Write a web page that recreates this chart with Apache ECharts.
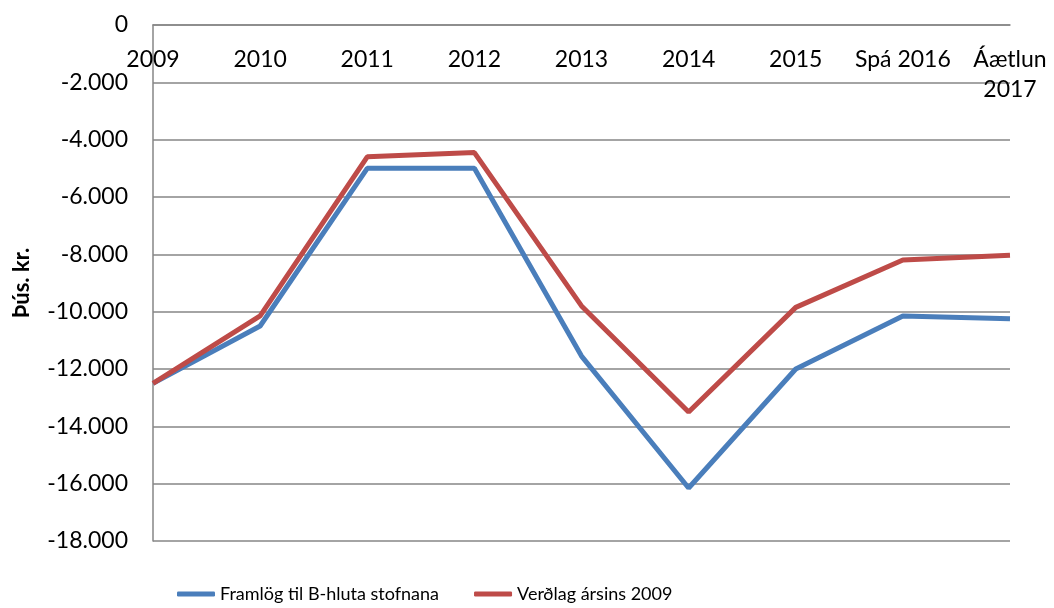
<!DOCTYPE html>
<html>
<head>
<meta charset="utf-8">
<script src="https://cdn.jsdelivr.net/npm/echarts@6/dist/echarts.min.js"></script>
<style>
    html, body { margin: 0; padding: 0; background: #fff; }
    #chart1 { width: 1054px; height: 608px; }
</style>
</head>
<body>
<div id="chart1"></div>
<script>
const years = ['2009', '2010', '2011', '2012', '2013', '2014', '2015', 'Spá 2016', 'Áætlun\n2017'];
const framlog = [-12500, -10500, -5000, -5000, -11550, -16150, -12000, -10150, -10250];
const verdlag = [-12500, -10150, -4600, -4450, -9800, -13500, -9850, -8200, -8030];
const seriesNames = ['Framlög til B-hluta stofnana', 'Verðlag ársins 2009'];

// -2000 -> "-2.000"
const fmt = (v) => {
    const s = String(Math.abs(v)).replace(/\B(?=(\d{3})+(?!\d))/g, '.');
    return v < 0 ? '-' + s : s;
};

const getOptionChart1=()=>{
    return{
        animation: false,
        color: ['#4A7EBB', '#BE4B48'],
        textStyle: {
            fontFamily: 'Lato'
        },
        grid: {
            left: 153,
            right: 44,
            top: 25,
            bottom: 67,
            outerBoundsMode: 'none'
        },
        legend: {
            data: seriesNames,
            left: 172,
            top: 580,
            icon: 'roundRect',
            itemWidth: 38,
            itemHeight: 5,
            itemGap: 35,
            textStyle: {
                color: '#000',
                fontFamily: 'Lato',
                fontSize: 18
            }
        },
        xAxis: {
            type: 'category',
            position: 'top', // el eje cae en el cero, arriba
            boundaryGap: false,
            data: years,
            axisLine: {
                lineStyle: { color: '#868686', width: 1.5 }
            },
            axisTick: { show: false },
            axisLabel: {
                inside: true,
                interval: 0,
                margin: 20,
                color: '#000',
                fontFamily: 'Lato',
                fontSize: 23,
                lineHeight: 30,
                verticalAlign: 'top'
            }
        },
        yAxis: {
            type: 'value',
            min: -18000,
            max: 0,
            interval: 2000,
            name: 'Þús. kr.',
            nameLocation: 'middle',
            nameRotate: 90,
            nameGap: 120,
            nameTextStyle: {
                color: '#000',
                fontFamily: 'Lato',
                fontWeight: 'bold',
                fontSize: 22
            },
            axisLine: {
                show: true,
                lineStyle: { color: '#868686', width: 1.5 }
            },
            axisTick: { show: false },
            splitLine: {
                lineStyle: { color: '#868686', width: 1.5 }
            },
            axisLabel: {
                margin: 25,
                color: '#000',
                fontFamily: 'Lato',
                fontSize: 23,
                formatter: fmt
            }
        },
        series: [
            {
            name: seriesNames[0],
            type: 'line',
            data: framlog,
            symbol: 'none',
            lineStyle: { width: 5 }
            },
            {
            name: seriesNames[1],
            type: 'line',
            data: verdlag,
            symbol: 'none',
            lineStyle: { width: 5 }
            }
        ]
    };
};

const initCharts= () => {
    const chart1 = echarts.init(document.getElementById('chart1'));
    chart1.setOption(getOptionChart1());
};

window.addEventListener('load', () => {
    initCharts();
  });
</script>
</body>
</html>
